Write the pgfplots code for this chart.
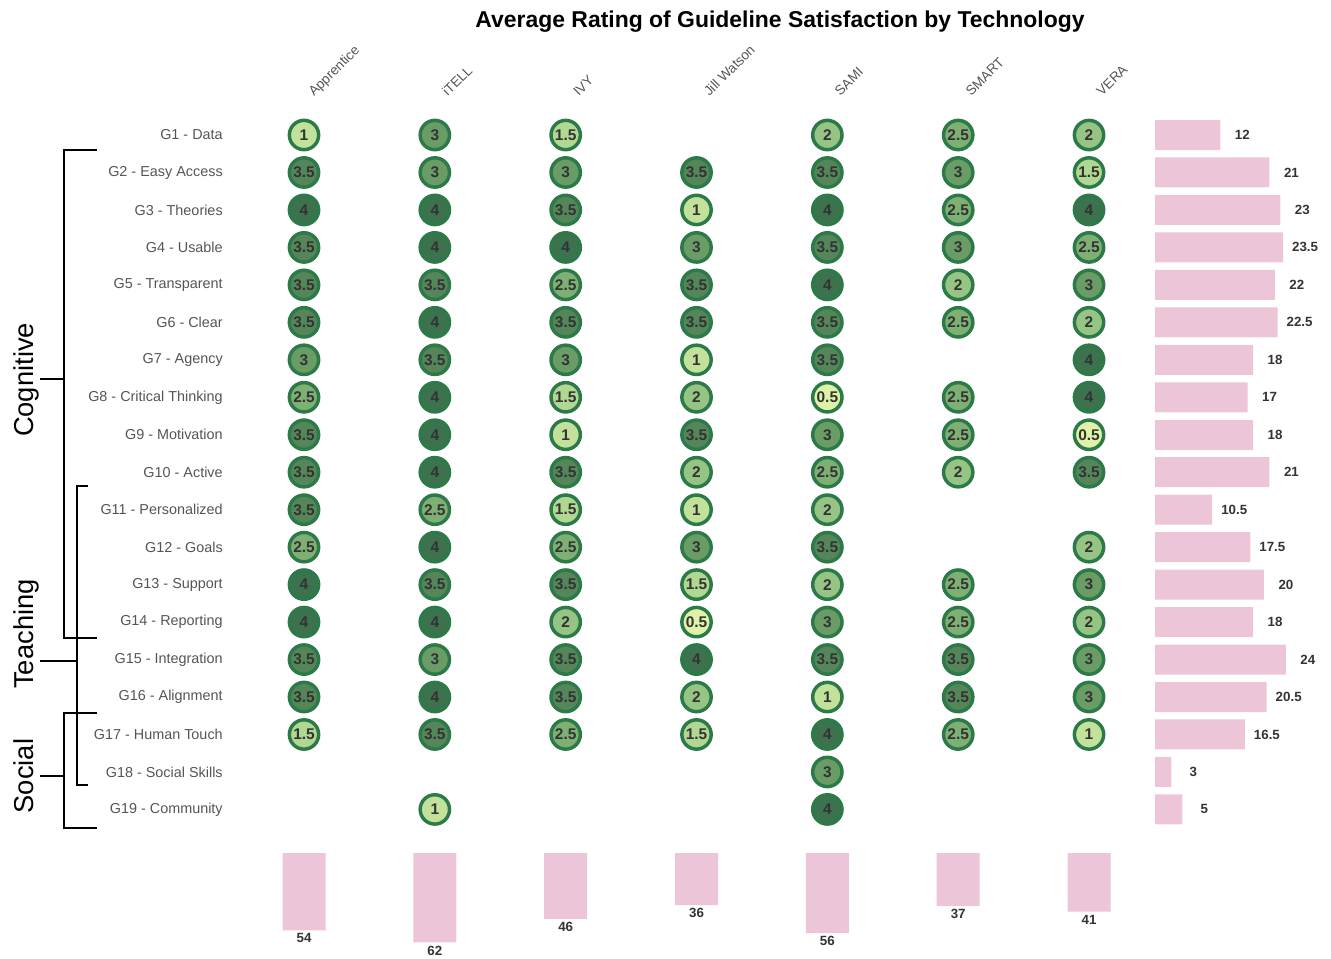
\documentclass[border=0pt]{standalone}
\usepackage{pgfplots}
\pgfplotsset{compat=1.18}
\usepackage{pgfplotstable}
\usepackage{fontspec}
\setmainfont{Liberation Sans}
\definecolor{ringc}{RGB}{44,122,72}
\definecolor{barpink}{RGB}{236,197,216}
\definecolor{lab}{RGB}{85,85,85}
\definecolor{val}{RGB}{51,51,51}

% long format: column index, row index, rating
\pgfplotstableread{
x y v
0 1 1
1 1 3
2 1 1.5
4 1 2
5 1 2.5
6 1 2
0 2 3.5
1 2 3
2 2 3
3 2 3.5
4 2 3.5
5 2 3
6 2 1.5
0 3 4
1 3 4
2 3 3.5
3 3 1
4 3 4
5 3 2.5
6 3 4
0 4 3.5
1 4 4
2 4 4
3 4 3
4 4 3.5
5 4 3
6 4 2.5
0 5 3.5
1 5 3.5
2 5 2.5
3 5 3.5
4 5 4
5 5 2
6 5 3
0 6 3.5
1 6 4
2 6 3.5
3 6 3.5
4 6 3.5
5 6 2.5
6 6 2
0 7 3
1 7 3.5
2 7 3
3 7 1
4 7 3.5
6 7 4
0 8 2.5
1 8 4
2 8 1.5
3 8 2
4 8 0.5
5 8 2.5
6 8 4
0 9 3.5
1 9 4
2 9 1
3 9 3.5
4 9 3
5 9 2.5
6 9 0.5
0 10 3.5
1 10 4
2 10 3.5
3 10 2
4 10 2.5
5 10 2
6 10 3.5
0 11 3.5
1 11 2.5
2 11 1.5
3 11 1
4 11 2
0 12 2.5
1 12 4
2 12 2.5
3 12 3
4 12 3.5
6 12 2
0 13 4
1 13 3.5
2 13 3.5
3 13 1.5
4 13 2
5 13 2.5
6 13 3
0 14 4
1 14 4
2 14 2
3 14 0.5
4 14 3
5 14 2.5
6 14 2
0 15 3.5
1 15 3
2 15 3.5
3 15 4
4 15 3.5
5 15 3.5
6 15 3
0 16 3.5
1 16 4
2 16 3.5
3 16 2
4 16 1
5 16 3.5
6 16 3
0 17 1.5
1 17 3.5
2 17 2.5
3 17 1.5
4 17 4
5 17 2.5
6 17 1
4 18 3
1 19 1
4 19 4
}\ratings

% row totals
\pgfplotstableread{
x y
12 1
21 2
23 3
23.5 4
22 5
22.5 6
18 7
17 8
18 9
21 10
10.5 11
17.5 12
20 13
18 14
24 15
20.5 16
16.5 17
3 18
5 19
}\rowtotals

% column totals
\pgfplotstableread{
x y lab
0 54 54
1 62.5 62
2 46 46
3 36.5 36
4 56 56
5 37 37
6 41 41
}\coltotals

\begin{document}
\begin{tikzpicture}
\path[use as bounding box] (0pt,0pt) rectangle (998.25pt,-718.5pt);

% main dot matrix
\begin{axis}[
  at={(178.94pt,-87.2pt)}, anchor=north west,
  scale only axis, width=686.9pt, height=533.9pt,
  xmin=-0.5, xmax=6.5, ymin=0.5, ymax=19.5, y dir=reverse,
  axis line style={draw=none}, major tick length=0pt,
  xtick=\empty,
  ytick={1,...,19},
  yticklabels={G1 - Data, G2 - Easy Access, G3 - Theories, G4 - Usable,
    G5 - Transparent, G6 - Clear, G7 - Agency, G8 - Critical Thinking,
    G9 - Motivation, G10 - Active, G11 - Personalized, G12 - Goals,
    G13 - Support, G14 - Reporting, G15 - Integration, G16 - Alignment,
    G17 - Human Touch, G18 - Social Skills, G19 - Community},
  yticklabel style={font=\fontsize{10.8}{12}\selectfont, text=lab, inner sep=0pt, xshift=-11.7pt},
  clip=false,
  colormap={rating}{rgb255(0)=(222,242,168) rgb255(1)=(194,226,156)
    rgb255(2)=(176,216,146) rgb255(3)=(150,196,132) rgb255(4)=(126,176,116)
    rgb255(5)=(106,156,102) rgb255(6)=(84,134,90) rgb255(7)=(60,114,78)},
  point meta min=0.5, point meta max=4,
  /pgf/number format/assume math mode=true,
]
% circles
\addplot[scatter, only marks, mark=*, mark size=11pt,
  line width=2.6pt,
  point meta=explicit,
  scatter/use mapped color={draw=ringc, fill=mapped color},
] table[x=x, y=y, meta=v] {\ratings};
% values inside circles
\addplot[draw=none, mark=none,
  point meta=explicit,
  nodes near coords,
  nodes near coords style={anchor=center, font=\bfseries\fontsize{11.6}{12}\selectfont, text=val},
] table[x=x, y=y, meta=v] {\ratings};
\end{axis}

% row totals
\begin{axis}[
  at={(866.25pt,-87.2pt)}, anchor=north west,
  scale only axis, width=122.6pt, height=533.9pt,
  xmin=0, xmax=30, ymin=0.5, ymax=19.5, y dir=reverse,
  hide axis, clip=false,
  xbar, bar width=22.5pt,
  nodes near coords,
  nodes near coords style={anchor=center, xshift=16.5pt, font=\bfseries\fontsize{10}{12}\selectfont, text=val},
  /pgf/number format/assume math mode=true,
]
\addplot[fill=barpink, draw=none] table[x=x, y=y] {\rowtotals};
\end{axis}

% column totals
\begin{axis}[
  at={(178.94pt,-639.75pt)}, anchor=north west,
  scale only axis, width=686.9pt, height=75.1pt,
  xmin=-0.5, xmax=6.5, ymin=0, ymax=70, y dir=reverse,
  hide axis, clip=false,
  ybar, bar width=32.25pt,
  point meta=explicit symbolic,
  nodes near coords,
  nodes near coords style={anchor=center, yshift=-6pt, font=\bfseries\fontsize{10}{12}\selectfont, text=val},
]
\addplot[fill=barpink, draw=none] table[x=x, y=y, meta=lab] {\coltotals};
\end{axis}

% column labels
\foreach \cx/\name in {235.5/Apprentice, 335.85/iTELL, 434.0/IVY, 532.1/Jill Watson, 630.2/SAMI, 728.4/SMART, 826.5/VERA}{
  \node[rotate=45, anchor=base west, inner sep=0pt, font=\fontsize{10.2}{11}\selectfont, text=lab] at (\cx pt,-72.75pt) {\name};
}

% title
\node[font=\bfseries\fontsize{17.2}{20}\selectfont] at (585pt,-16.5pt) {Average Rating of Guideline Satisfaction by Technology};

% brackets
\draw[line width=1pt] (72.75pt,-112.5pt) -- (48pt,-112.5pt) -- (48pt,-478.5pt) -- (72.75pt,-478.5pt);
\draw[line width=1pt] (30pt,-284.25pt) -- (48pt,-284.25pt);
\draw[line width=1pt] (66pt,-364.5pt) -- (57.75pt,-364.5pt) -- (57.75pt,-588.75pt) -- (66pt,-588.75pt);
\draw[line width=1pt] (30pt,-495.75pt) -- (57.75pt,-495.75pt);
\draw[line width=1pt] (72.75pt,-534.75pt) -- (48pt,-534.75pt) -- (48pt,-621pt) -- (72.75pt,-621pt);
\draw[line width=1pt] (30pt,-582pt) -- (48pt,-582pt);

% group labels
\node[rotate=90, anchor=base, inner sep=0pt, font=\fontsize{20.5}{24}\selectfont] at (24.75pt,-285pt) {Cognitive};
\node[rotate=90, anchor=base, inner sep=0pt, font=\fontsize{20.5}{24}\selectfont] at (24.75pt,-475.5pt) {Teaching};
\node[rotate=90, anchor=base, inner sep=0pt, font=\fontsize{20.5}{24}\selectfont] at (24.75pt,-582pt) {Social};
\end{tikzpicture}
\end{document}
